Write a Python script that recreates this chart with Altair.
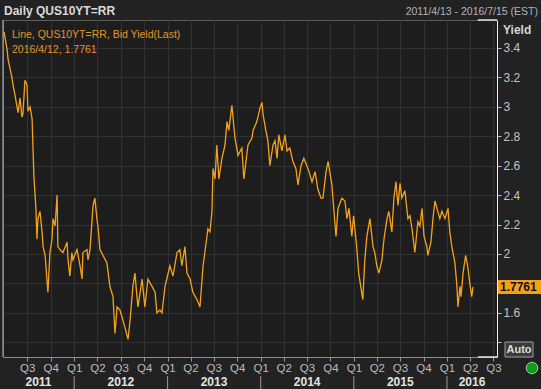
import altair as alt
import pandas as pd

# ---------------- data ----------------
dates = [
    "2011-04-01", "2011-04-13", "2011-04-17", "2011-05-02", "2011-05-06", "2011-05-14",
    "2011-05-22", "2011-05-26", "2011-06-03", "2011-06-10", "2011-06-14", "2011-06-22",
    "2011-06-30", "2011-07-04", "2011-07-12", "2011-07-20", "2011-07-24", "2011-07-27",
    "2011-08-04", "2011-08-08", "2011-08-12", "2011-08-20", "2011-08-28", "2011-09-01",
    "2011-09-09", "2011-09-16", "2011-09-20", "2011-09-28", "2011-10-06", "2011-10-10",
    "2011-10-18", "2011-10-26", "2011-10-29", "2011-11-06", "2011-11-18", "2011-12-04",
    "2011-12-08", "2011-12-15", "2011-12-23", "2011-12-27", "2012-01-12", "2012-01-24",
    "2012-02-01", "2012-02-04", "2012-02-20", "2012-02-24", "2012-03-03", "2012-03-15",
    "2012-03-22", "2012-03-30", "2012-04-03", "2012-04-11", "2012-04-23", "2012-05-08",
    "2012-05-20", "2012-06-01", "2012-06-09", "2012-06-17", "2012-06-28", "2012-07-10",
    "2012-07-18", "2012-07-30", "2012-08-07", "2012-08-18", "2012-08-26", "2012-09-03",
    "2012-09-07", "2012-09-23", "2012-10-04", "2012-10-16", "2012-11-01", "2012-11-13",
    "2012-11-20", "2012-12-02", "2012-12-10", "2012-12-22", "2012-12-29", "2013-01-10",
    "2013-01-22", "2013-02-07", "2013-02-18", "2013-02-26", "2013-03-10", "2013-03-18",
    "2013-03-30", "2013-04-10", "2013-04-26", "2013-05-08", "2013-05-20", "2013-05-27",
    "2013-06-08", "2013-06-16", "2013-06-24", "2013-06-28", "2013-07-06", "2013-07-13",
    "2013-07-21", "2013-08-02", "2013-08-14", "2013-08-22", "2013-08-29", "2013-09-10",
    "2013-09-22", "2013-10-04", "2013-10-19", "2013-10-27", "2013-11-12", "2013-11-28",
    "2013-12-02", "2013-12-17", "2013-12-29", "2014-01-06", "2014-01-10", "2014-01-21",
    "2014-01-29", "2014-02-06", "2014-02-18", "2014-02-26", "2014-03-06", "2014-03-13",
    "2014-03-25", "2014-04-06", "2014-04-14", "2014-04-25", "2014-05-07", "2014-05-19",
    "2014-05-27", "2014-06-08", "2014-06-19", "2014-07-01", "2014-07-09", "2014-07-21",
    "2014-08-02", "2014-08-13", "2014-08-25", "2014-09-02", "2014-09-14", "2014-09-22",
    "2014-10-07", "2014-10-15", "2014-10-23", "2014-10-31", "2014-11-15", "2014-11-27",
    "2014-12-05", "2014-12-13", "2014-12-24", "2014-12-31", "2015-01-12", "2015-01-20",
    "2015-02-05", "2015-02-13", "2015-02-21", "2015-03-05", "2015-03-17", "2015-03-24",
    "2015-04-01", "2015-04-09", "2015-04-21", "2015-04-29", "2015-05-11", "2015-05-18",
    "2015-05-30", "2015-06-07", "2015-06-15", "2015-06-23", "2015-07-01", "2015-07-08",
    "2015-07-20", "2015-08-01", "2015-08-09", "2015-08-17", "2015-08-28", "2015-09-09",
    "2015-09-17", "2015-09-25", "2015-10-03", "2015-10-14", "2015-10-18", "2015-10-30",
    "2015-11-07", "2015-11-15", "2015-11-26", "2015-12-04", "2015-12-12", "2015-12-24",
    "2016-01-05", "2016-01-12", "2016-01-20", "2016-02-01", "2016-02-09", "2016-02-13",
    "2016-02-21", "2016-02-25", "2016-03-04", "2016-03-14", "2016-03-22", "2016-04-01",
    "2016-04-07", "2016-04-12",
]
yields = [
    3.51, 3.39, 3.32, 3.20, 3.15, 3.08,
    3.00, 2.96, 3.06, 2.93, 2.95, 3.18,
    3.15, 2.97, 3.00, 2.92, 2.70, 2.53,
    2.31, 2.10, 2.24, 2.29, 2.15, 2.05,
    1.99, 1.83, 1.74, 2.01, 2.10, 2.24,
    2.19, 2.40, 2.05, 2.03, 2.01, 2.08,
    1.96, 1.85, 2.01, 1.96, 2.03, 1.92,
    1.83, 2.01, 2.03, 1.96, 2.03, 2.33,
    2.38, 2.24, 2.19, 2.03, 1.99, 1.94,
    1.78, 1.71, 1.46, 1.64, 1.62, 1.55,
    1.50, 1.42, 1.55, 1.78, 1.87, 1.71,
    1.64, 1.83, 1.64, 1.83, 1.78, 1.74,
    1.60, 1.62, 1.60, 1.78, 1.83, 1.92,
    1.85, 2.01, 2.03, 1.92, 2.05, 1.87,
    1.83, 1.74, 1.69, 1.64, 1.92, 2.01,
    2.17, 2.15, 2.29, 2.58, 2.51, 2.74,
    2.51, 2.65, 2.74, 2.90, 2.84, 3.01,
    2.79, 2.67, 2.72, 2.51, 2.74, 2.79,
    2.84, 2.90, 2.99, 3.03, 2.95, 2.84,
    2.77, 2.60, 2.74, 2.77, 2.65, 2.81,
    2.70, 2.81, 2.70, 2.72, 2.63, 2.58,
    2.47, 2.60, 2.65, 2.60, 2.56, 2.49,
    2.56, 2.44, 2.38, 2.38, 2.56, 2.63,
    2.47, 2.29, 2.12, 2.31, 2.38, 2.36,
    2.24, 2.31, 2.12, 2.26, 2.05, 1.87,
    1.69, 1.96, 2.12, 2.24, 2.05, 2.01,
    1.92, 1.87, 1.96, 2.10, 2.24, 2.29,
    2.15, 2.38, 2.49, 2.33, 2.48, 2.38,
    2.43, 2.24, 2.26, 2.17, 2.01, 2.22,
    2.19, 2.31, 2.12, 2.05, 1.99, 2.08,
    2.24, 2.36, 2.29, 2.24, 2.29, 2.24,
    2.31, 2.15, 2.05, 1.94, 1.78, 1.64,
    1.78, 1.71, 1.87, 1.99, 1.92, 1.78,
    1.71, 1.7761,
]

quarter_ticks = [(2011, 7), (2011, 10), (2012, 1), (2012, 4), (2012, 7), (2012, 10),
                 (2013, 1), (2013, 4), (2013, 7), (2013, 10), (2014, 1), (2014, 4),
                 (2014, 7), (2014, 10), (2015, 1), (2015, 4), (2015, 7), (2015, 10),
                 (2016, 1), (2016, 4), (2016, 7)]
year_labels = ["2011", "2012", "2013", "2014", "2015", "2016"]
year_label_dates = ["2011-08-14", "2012-07-02", "2013-07-02", "2014-07-02", "2015-07-02", "2016-04-08"]
year_starts = ["2012-01-01", "2013-01-01", "2014-01-01", "2015-01-01", "2016-01-01"]
y_ticks = [1.4, 1.6, 1.8, 2.0, 2.2, 2.4, 2.6, 2.8, 3.0, 3.2, 3.4]
y_domain = [1.30, 3.59]
x_start = (2011, 3, 28)
x_end = (2016, 7, 15)
range_marker = ["2016-05-01", "2016-07-15"]
last_value = 1.7761

title_text = "Daily QUS10YT=RR"
range_text = "2011/4/13 - 2016/7/15 (EST)"
legend_line1 = "Line, QUS10YT=RR, Bid Yield(Last)"
legend_line2 = "2016/4/12, 1.7761"
axis_title = "Yield"
auto_text = "Auto"

# ---------------- styling ----------------
W, H = 494, 337
BG = "#222222"
PLOT_BG = "#1d1d1d"
ORANGE = "#f4a21e"
GRID = "#313131"
FONT = "Liberation Sans"

x_scale = alt.Scale(type="utc", domain=[
    alt.DateTime(year=x_start[0], month=x_start[1], date=x_start[2], utc=True),
    alt.DateTime(year=x_end[0], month=x_end[1], date=x_end[2], utc=True)])
y_scale = alt.Scale(domain=y_domain, nice=False, zero=False)

x_axis = alt.Axis(
    values=[alt.DateTime(year=y, month=m, date=1, utc=True) for y, m in quarter_ticks],
    labelExpr="'Q' + (floor(utcmonth(datum.value) / 3) + 1)",
    grid=True, gridColor=GRID, domain=True, domainColor="#8e8e8e",
    tickColor="#9a9a9a", tickSize=4, labelColor="#bdbdbd", labelFontSize=11.5,
    labelFont=FONT, labelPadding=1, labelAngle=0, labelOverlap=False,
    labelFlush=False, title=None)
y_axis = alt.Axis(
    orient="right", values=y_ticks, format=".2~f",
    labelExpr="(datum.value < 1.45 || (datum.value > 1.75 && datum.value < 1.85)) ? '' : datum.label",
    grid=True, gridColor=GRID, domain=True, domainColor="#eeeeee",
    tickColor="#bdbdbd", tickSize=4, labelColor="#c4c4c4", labelFontSize=12,
    labelFont=FONT, labelPadding=2, labelOverlap=False, labelFlush=False, title=None)

df = pd.DataFrame({"date": dates, "yield": yields})

line = alt.Chart(df).mark_line(color=ORANGE, strokeWidth=1.3, clip=True).encode(
    x=alt.X("date:T", scale=x_scale, axis=x_axis),
    y=alt.Y("yield:Q", scale=y_scale, axis=y_axis),
)

one = pd.DataFrame({"k": [0]})

left_edge = alt.Chart(one).mark_rule(color="#b8b8b8", strokeWidth=1).encode(
    x=alt.value(0), y=alt.value(0), y2=alt.value(H))

marker_df = pd.DataFrame({"d1": [range_marker[0]], "d2": [range_marker[1]]})
marker_top = alt.Chart(marker_df).mark_rule(color="#e6e6e6", strokeWidth=1.5).encode(
    x=alt.X("d1:T", scale=x_scale, axis=x_axis), x2="d2:T", y=alt.value(0))
marker_bot = alt.Chart(marker_df).mark_rule(color="#e6e6e6", strokeWidth=1.5).encode(
    x=alt.X("d1:T", scale=x_scale, axis=x_axis), x2="d2:T", y=alt.value(H))

years_df = pd.DataFrame({"d": year_label_dates, "label": year_labels})
year_text = alt.Chart(years_df).mark_text(
    font=FONT, fontSize=12, fontWeight="bold", color="#e2e2e2", baseline="middle", align="center"
).encode(x=alt.X("d:T", scale=x_scale, axis=x_axis), y=alt.value(H + 25), text="label:N")

sep_df = pd.DataFrame({"d": year_starts})
year_sep = alt.Chart(sep_df).mark_rule(color="#9a9a9a", strokeWidth=1).encode(
    x=alt.X("d:T", scale=x_scale, axis=x_axis), y=alt.value(H + 19), y2=alt.value(H + 33))


def label(text, x, y, color, size=12, weight="normal", align="left"):
    return alt.Chart(pd.DataFrame({"t": [text]})).mark_text(
        font=FONT, fontSize=size, fontWeight=weight, color=color, align=align, baseline="middle"
    ).encode(x=alt.value(x), y=alt.value(y), text="t:N")


title_mark = label(title_text, 1, -9, "#dadada", 12, "bold")
range_mark = label(range_text, 535, -8, "#b4b4b4", 10.5, "normal", "right")
legend1 = label(legend_line1, 9, 15, "#e3952a", 10.5)
legend2 = label(legend_line2, 9, 30, "#e3952a", 10.5)
yield_mark = label(axis_title, 500, 10, "#d6d6d6", 12, "bold")

val_df = pd.DataFrame({"v": [last_value]})
val_box = alt.Chart(val_df).mark_rect(color="#f5a01a", yOffset=-7, y2Offset=7).encode(
    x=alt.value(W + 1), x2=alt.value(W + 44),
    y=alt.Y("v:Q", scale=y_scale, axis=y_axis), y2="v:Q")
val_text = alt.Chart(val_df).mark_text(
    font=FONT, fontSize=12, fontWeight="bold", color="#111111", align="left", baseline="middle"
).encode(x=alt.value(W + 3), y=alt.Y("v:Q", scale=y_scale, axis=y_axis),
         text=alt.Text("v:Q", format=".4f"))

auto_box = alt.Chart(one).mark_rect(fill="#3a3a3a", stroke="#a0a0a0", strokeWidth=1).encode(
    x=alt.value(502), x2=alt.value(530), y=alt.value(322), y2=alt.value(337))
auto_label = label(auto_text, 516, 330, "#dcdcdc", 11, "bold", "center")

green = alt.Chart(one).mark_point(
    shape="circle", filled=True, fill="#139a1c", stroke="#8fd48f", strokeWidth=1, size=135, opacity=1
).encode(x=alt.value(529), y=alt.value(348))

chart = alt.layer(
    line, left_edge, marker_top, marker_bot, year_sep, year_text,
    title_mark, range_mark, legend1, legend2, yield_mark,
    val_box, val_text, auto_box, auto_label, green,
).properties(
    width=W, height=H, background=BG,
    padding={"left": 3, "top": 20, "right": 44, "bottom": 32},
    autosize=alt.AutoSizeParams(type="none"),
).configure_view(fill=PLOT_BG, stroke="#5e5e5e", strokeWidth=1)

chart.save("out.html", embed_options={"renderer": "svg", "actions": False})
